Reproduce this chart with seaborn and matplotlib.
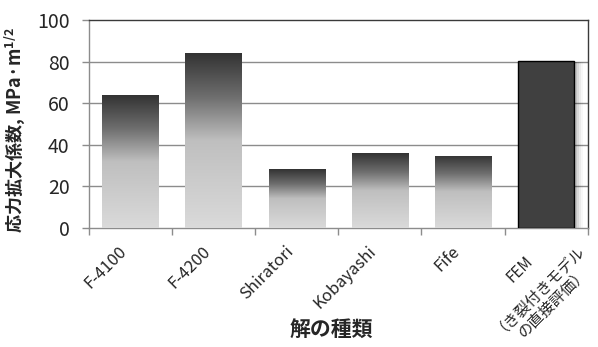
import numpy as np
import pandas as pd
import matplotlib
matplotlib.use("Agg")
import matplotlib.pyplot as plt
import matplotlib.transforms as mtransforms
import seaborn as sns
from matplotlib.colors import LinearSegmentedColormap
from matplotlib.patches import Rectangle

categories = ["F-4100", "F-4200", "Shiratori", "Kobayashi", "Fife",
              "FEM\n（き裂付きモデル\nの直接評価）"]
values = [64.0, 84.3, 28.4, 36.0, 34.8, 80.6]
yticks = [0, 20, 40, 60, 80, 100]

sns.set_theme(style="white")
plt.rcParams['font.family'] = ['Noto Sans CJK JP', 'DejaVu Sans']

df = pd.DataFrame({"solution": categories, "K": values})

fig = plt.figure(figsize=(5.98, 3.47), dpi=100)
ax = fig.add_axes([0.1488, 0.343, 0.834, 0.598])

sns.barplot(data=df, x="solution", y="K", ax=ax, width=0.68,
            color="#404040", saturation=1, zorder=3)

ax.set_ylim(0, 100)
ax.set_xlim(-0.5, len(categories) - 0.5)
ax.set_yticks(yticks)
ax.set_yticklabels([str(v) for v in yticks], fontsize=14)

cmap = LinearSegmentedColormap.from_list(
    "grad", [(0.0, "#333333"), (0.25, "#6e6e6e"), (0.5, "#bfbfbf"), (1.0, "#dadada")])
grad = np.linspace(0, 1, 256).reshape(-1, 1)

patches = list(ax.patches)
for i, p in enumerate(patches):
    x0, w, h = p.get_x(), p.get_width(), p.get_height()
    if i < len(patches) - 1:
        p.set_facecolor("none")
        p.set_edgecolor("none")
        im = ax.imshow(grad, cmap=cmap, aspect="auto",
                       extent=[x0, x0 + w, 0, h], origin="upper", zorder=3,
                       interpolation="bilinear")
        im.set_clip_path(p)
    else:
        p.set_facecolor("#404040")
        p.set_edgecolor("black")
        p.set_linewidth(1.0)
        for k, a in enumerate([0.10, 0.07, 0.05, 0.03]):
            off = 0.03 + 0.025 * k
            sh = Rectangle((x0 + off, 0), w, h - 0.8, facecolor="black",
                           alpha=a, edgecolor="none", zorder=2.5)
            ax.add_patch(sh)

ax.set_xlim(-0.5, len(categories) - 0.5)
ax.set_ylim(0, 100)

for y in yticks[1:-1]:
    ax.axhline(y, color="#8c8c8c", lw=1.0, zorder=1)

for s in ax.spines.values():
    s.set_color("#3a3a3a")
    s.set_linewidth(1.0)
ax.spines['left'].set_color("#8c8c8c")
ax.spines['bottom'].set_color("#8c8c8c")

ax.tick_params(axis="y", which="major", left=True, length=5, width=1,
               color="#8c8c8c", pad=9)
ax.set_xticks(range(len(categories)))
ax.set_xticklabels(categories, rotation=45, ha="right",
                   rotation_mode="anchor", fontsize=12)
ax.tick_params(axis="x", which="major", bottom=False, pad=6)
shift = mtransforms.ScaledTranslation(-12 / 100, 2 / 100, fig.dpi_scale_trans)
labels = ax.get_xticklabels()
for t in labels:
    t.set_transform(t.get_transform() + shift)
labels[-1].set_visible(False)
ax.text(len(categories) - 1.12, -58 / 208, categories[-1],
        transform=mtransforms.blended_transform_factory(ax.transData, ax.transAxes),
        rotation=45, ha="center", va="center", multialignment="center",
        linespacing=1.45, fontsize=11)
ax.set_xticks(np.arange(-0.5, len(categories), 1.0), minor=True)
ax.tick_params(axis="x", which="minor", bottom=True, length=5, width=1,
               color="#8c8c8c")

ax.set_xlabel("解の種類", fontsize=15, fontweight="bold")
ax.xaxis.set_label_coords(0.485, -0.44)
ax.set_ylabel("応力拡大係数, MPa·m$^{\\mathregular{1/2}}$", fontsize=13,
              fontweight="bold")
ax.yaxis.set_label_coords(-0.124, 0.47)

fig.savefig("out.png", dpi=100)
